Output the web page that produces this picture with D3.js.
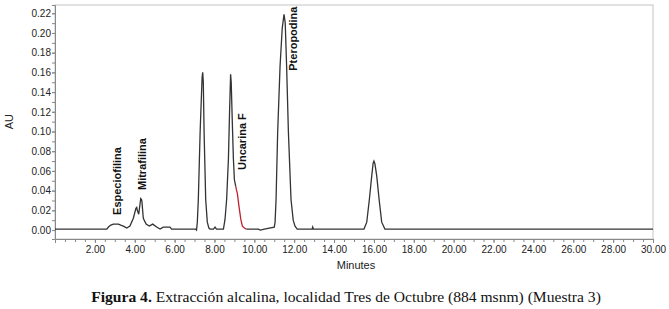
<!DOCTYPE html>
<html lang="es">
<head>
<meta charset="UTF-8">
<title>Figura 4</title>
<script src="https://d3js.org/d3.v7.min.js"></script>
<style>
    body { margin: 0; background: #fff; }
    .tick text { font-family: Arial, "Liberation Sans", sans-serif; font-size: 10px; fill: #222; }
    .axis path, .axis line { stroke: #888; }
    .peak-label { font-family: Arial, "Liberation Sans", sans-serif; font-size: 11px; font-weight: bold; fill: #111; }
    .caption { font-family: "Liberation Serif", "Times New Roman", serif; font-size: 15.6px; fill: #111; }
</style>
</head>
<body>
<svg width="669" height="309"></svg>
<script>
// chromatogram trace (minutes, AU)
const traceTime = [0, 2.6, 2.68, 2.8, 2.93, 3.18, 3.3, 3.43, 3.6, 3.76, 3.93, 4.06, 4.1, 4.13, 4.2, 4.3, 4.34, 4.36, 4.43,
    4.57, 4.73, 4.9, 5.1, 5.27, 5.43, 5.77, 5.85, 7.05, 7.1, 7.14, 7.19, 7.28, 7.38, 7.41, 7.44, 7.48, 7.56, 7.64, 7.72,
    7.78, 7.95, 8.03, 8.1, 8.45, 8.53, 8.61, 8.70, 8.76, 8.81, 8.84, 8.9, 8.95, 9.0, 9.07];
const traceAu = [0.001, 0.001, 0.003, 0.005, 0.006, 0.006, 0.005, 0.004, 0.002, 0.004, 0.012, 0.022, 0.023, 0.020, 0.016, 0.032, 0.031, 0.029, 0.012,
    0.006, 0.004, 0.006, 0.003, 0.001, 0.003, 0.003, 0.001, 0.001, 0.000, 0.008, 0.031, 0.099, 0.155, 0.160, 0.150, 0.099, 0.031, 0.008, 0.002,
    0.001, 0.001, 0.003, 0.001, 0.001, 0.011, 0.031, 0.072, 0.122, 0.158, 0.150, 0.106, 0.072, 0.051, 0.044];

// integrated Uncarina F segment (red)
const redTime = [9.07, 9.1, 9.15, 9.23, 9.32, 9.40, 9.5, 9.6];
const redAu = [0.044, 0.041, 0.037, 0.024, 0.011, 0.004, 0.002, 0.001];

const tailTime = [9.6, 10.2, 10.3, 10.5, 11.0, 11.04, 11.09, 11.17, 11.29, 11.4, 11.49, 11.55, 11.62, 11.71, 11.84, 11.95, 12.04,
    12.15, 12.9, 12.93, 12.96, 15.5, 15.64, 15.77, 15.89, 15.96, 16.0, 16.05, 16.14, 16.26, 16.39, 16.55, 30];
const tailAu = [0.001, 0.001, 0.000, 0.001, 0.003, 0.008, 0.031, 0.099, 0.166, 0.205, 0.219, 0.210, 0.166, 0.099, 0.031, 0.010, 0.004,
    0.001, 0.001, 0.003, 0.001, 0.001, 0.008, 0.031, 0.055, 0.068, 0.070, 0.067, 0.055, 0.031, 0.008, 0.001, 0.001];

// peak labels: where the vertical text starts (minutes, AU)
const peakNames = ["Especiofilina", "Mitrafilina", "Uncarina F", "Pteropodina"];
const peakTime = [3.11, 4.35, 9.37, 11.96];
const peakAu = [0.0153, 0.0406, 0.0609, 0.1617];

const xTickLabels = [2, 4, 6, 8, 10, 12, 14, 16, 18, 20, 22, 24, 26, 28, 30];
const yTickLabels = [0, 0.02, 0.04, 0.06, 0.08, 0.10, 0.12, 0.14, 0.16, 0.18, 0.20, 0.22];

const svg = d3.select("svg");
const margin = { top: 5, right: 16, bottom: 70, left: 55 };
const width = 669 - margin.left - margin.right;
const height = 309 - margin.top - margin.bottom;

const g = svg.append("g").attr("transform", `translate(${margin.left},${margin.top})`);

const x = d3.scaleLinear().domain([0, 30]).range([0, width]);
const y = d3.scaleLinear().domain([-0.0091, 0.2284]).range([height, 0]);

// frame
g.append("rect")
    .attr("width", width).attr("height", height)
    .attr("fill", "none").attr("stroke", "#c4c4c4");

// x axis: minor ticks then labels
g.append("g").attr("class", "axis")
    .attr("transform", `translate(0,${height})`)
    .call(d3.axisBottom(x).tickValues(d3.range(0.5, 30.01, 0.5)).tickSize(3).tickFormat(""))
    .call(a => a.select(".domain").remove());
g.append("g").attr("class", "axis")
    .attr("transform", `translate(0,${height})`)
    .call(d3.axisBottom(x).tickValues(xTickLabels).tickSize(4).tickPadding(3).tickFormat(d3.format(".2f")))
    .call(a => a.select(".domain").attr("stroke", "#999"));

// y axis
g.append("g").attr("class", "axis")
    .call(d3.axisLeft(y).tickValues(d3.range(0, 0.2201, 0.01)).tickSize(3).tickFormat(""))
    .call(a => a.select(".domain").remove());
g.append("g").attr("class", "axis")
    .call(d3.axisLeft(y).tickValues(yTickLabels).tickSize(3).tickPadding(1).tickFormat(d3.format(".2f")))
    .call(a => a.select(".domain").attr("stroke", "#999"));

svg.append("text")
    .attr("transform", `translate(13,${margin.top + y(0.11)}) rotate(-90)`)
    .attr("text-anchor", "middle")
    .style("font-family", "Arial, sans-serif").style("font-size", "11px").style("fill", "#222")
    .text("AU");

svg.append("text")
    .attr("x", margin.left + x(15.1)).attr("y", 269)
    .attr("text-anchor", "middle")
    .style("font-family", "Arial, sans-serif").style("font-size", "11px").style("fill", "#222")
    .text("Minutes");

const line = d3.line().x(d => x(d[0])).y(d => y(d[1]));

g.append("path")
    .datum(d3.zip(traceTime, traceAu))
    .attr("d", line).attr("fill", "none").attr("stroke", "#333").attr("stroke-width", 1.3);
g.append("path")
    .datum(d3.zip(tailTime, tailAu))
    .attr("d", line).attr("fill", "none").attr("stroke", "#333").attr("stroke-width", 1.3);
g.append("path")
    .datum(d3.zip(redTime, redAu))
    .attr("d", line).attr("fill", "none").attr("stroke", "#c0212f").attr("stroke-width", 1.3);

// rotated peak labels, glyph column centred on the anchor
peakNames.forEach((name, i) => {
    g.append("text")
        .attr("class", "peak-label")
        .attr("transform", `translate(${x(peakTime[i])},${y(peakAu[i])}) rotate(-90)`)
        .attr("dy", "0.35em")
        .text(name);
});

// caption
const cap = svg.append("text").attr("class", "caption")
    .attr("x", 346).attr("y", 302).attr("text-anchor", "middle");
cap.append("tspan").style("font-weight", "bold").text("Figura 4.");
cap.append("tspan").text(" Extracción alcalina, localidad Tres de Octubre (884 msnm) (Muestra 3)");
</script>
</body>
</html>
